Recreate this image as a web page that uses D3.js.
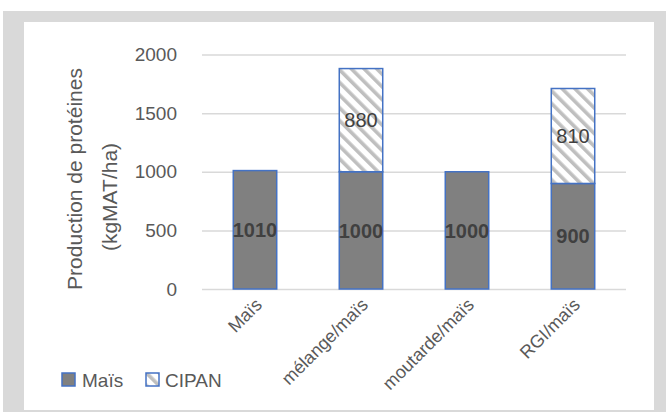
<!DOCTYPE html>
<html>
<head>
<meta charset="utf-8">
<script src="https://cdn.jsdelivr.net/npm/d3@7"></script>
<style>
  html, body { margin: 0; padding: 0; background: #ffffff; }
  svg { display: block; font-family: "Liberation Sans", "DejaVu Sans", sans-serif; }
</style>
</head>
<body>
<svg id="chart" width="666" height="412"></svg>
<script>
// Protein production per crop system (kg MAT / ha)
const categories = ["Maïs", "mélange/maïs", "moutarde/maïs", "RGI/maïs"];
const maisValues = [1010, 1000, 1000, 900];
const cipanValues = [0, 880, 0, 810];
const seriesNames = ["Maïs", "CIPAN"];
const yTicks = [0, 500, 1000, 1500, 2000];
const yTitleLines = ["Production de protéines", "(kgMAT/ha)"];

const svg = d3.select("#chart");

// Frame: grey border around the white chart area
svg.append("rect").attr("x", 3).attr("y", 11).attr("width", 663).attr("height", 401).attr("fill", "#d9d9d9");
svg.append("rect").attr("x", 24).attr("y", 22).attr("width", 630).attr("height", 388).attr("fill", "#ffffff");

// Diagonal hatching for the cover-crop series
const defs = svg.append("defs");
const pat = defs.append("pattern")
  .attr("id", "hatch")
  .attr("patternUnits", "userSpaceOnUse")
  .attr("width", 9).attr("height", 9)
  .attr("patternTransform", "rotate(-45)");
pat.append("rect").attr("width", 9).attr("height", 9).attr("fill", "#ffffff");
pat.append("rect").attr("x", 0).attr("width", 3.6).attr("height", 9).attr("fill", "#bfbfbf");

const x = d3.scaleBand().domain(categories).range([202, 626]).paddingInner(0.59).paddingOuter(0.295);
const y = d3.scaleLinear().domain([0, 2000]).range([289, 54.5]);

// Gridlines + tick labels
const yAxis = d3.axisLeft(y).tickValues(yTicks).tickSize(-(626 - 202)).tickPadding(25).tickFormat(d3.format("d"));
const gy = svg.append("g").attr("transform", "translate(202,0)").call(yAxis);
gy.select(".domain").remove();
gy.selectAll(".tick line").attr("stroke", "#d9d9d9").attr("stroke-width", 1.5);
gy.selectAll(".tick text").attr("fill", "#595959").style("font-size", "19px")
  .style("font-family", "'Liberation Sans', sans-serif");

// Stacked data
const table = categories.map((c, i) => ({ cat: c, mais: maisValues[i], cipan: cipanValues[i] }));
const stack = d3.stack().keys(["mais", "cipan"]);
const layers = stack(table);
const fills = { mais: "#808080", cipan: "url(#hatch)" };

layers.forEach(layer => {
  const g = svg.append("g");
  g.selectAll("rect")
    .data(layer.filter(d => d[1] - d[0] > 0))
    .join("rect")
    .attr("x", d => x(d.data.cat))
    .attr("width", x.bandwidth())
    .attr("y", d => y(d[1]))
    .attr("height", d => y(d[0]) - y(d[1]))
    .attr("fill", fills[layer.key])
    .attr("stroke", "#4472c4")
    .attr("stroke-width", 1.5);

  g.selectAll("text")
    .data(layer.filter(d => d[1] - d[0] > 0))
    .join("text")
    .attr("x", d => x(d.data.cat) + x.bandwidth() / 2)
    .attr("y", d => y((d[0] + d[1]) / 2))
    .attr("dy", "0.36em")
    .attr("text-anchor", "middle")
    .attr("fill", "#404040")
    .style("font-size", "20px")
    .style("font-weight", layer.key === "mais" ? "bold" : "normal")
    .text(d => d[1] - d[0]);
});

// Category labels, rotated
svg.append("g").selectAll("text")
  .data(categories)
  .join("text")
  .attr("transform", d => `translate(${x(d) + x.bandwidth() / 2 + 8},${306}) rotate(-45)`)
  .attr("text-anchor", "end")
  .attr("fill", "#595959")
  .style("font-size", "18px")
  .text(d => d);

// Y axis title (two lines)
const titleX = [82, 117];
const titleY = [179, 197];
yTitleLines.forEach((t, i) => {
  svg.append("text")
    .attr("transform", `translate(${titleX[i]},${titleY[i]}) rotate(-90)`)
    .attr("text-anchor", "middle")
    .attr("fill", "#595959")
    .style("font-size", "21px")
    .text(t);
});

// Legend
const legend = svg.append("g");
const legendItems = [
  { name: seriesNames[0], fill: fills.mais, x: 62, tx: 82 },
  { name: seriesNames[1], fill: fills.cipan, x: 146, tx: 165 }
];
legendItems.forEach(it => {
  legend.append("rect").attr("x", it.x).attr("y", 373).attr("width", 13).attr("height", 13)
    .attr("fill", it.fill).attr("stroke", "#4472c4").attr("stroke-width", 1.5);
  legend.append("text").attr("x", it.tx).attr("y", 380).attr("dy", "0.36em")
    .attr("fill", "#595959").style("font-size", "19px").text(it.name);
});
</script>
</body>
</html>
